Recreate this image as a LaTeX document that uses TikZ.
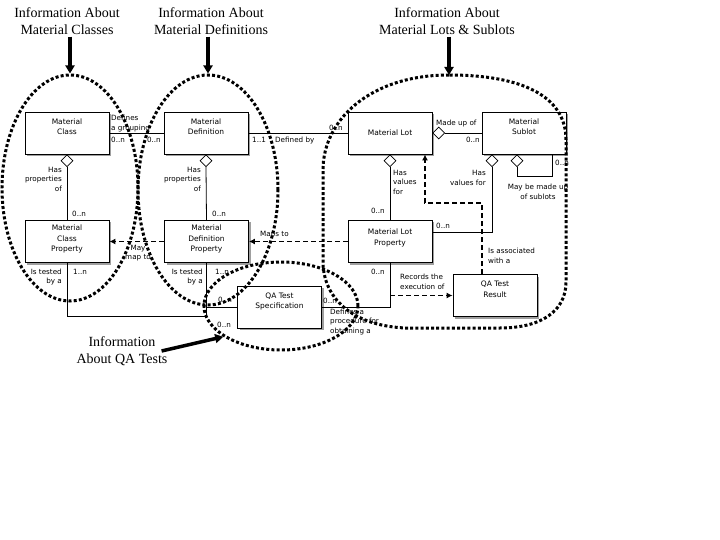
\documentclass[tikz,border=0pt]{standalone}
\usepackage{fontspec}
\setmainfont{Liberation Serif}
\newfontfamily\boxfont{DejaVu Sans}
\usetikzlibrary{shapes.geometric,shadows,arrows.meta}

\tikzset{
  ent/.style={draw, fill=white, line width=0.8pt, minimum width=84pt, minimum height=42pt,
    inner sep=0pt, align=center, font=\boxfont\fontsize{7.5}{10.5}\selectfont,
    drop shadow={shadow xshift=2pt, shadow yshift=-2pt, opacity=1, fill=gray!75}},
  raise/.style={text depth=#1},
  dmd/.style={diamond, draw, fill=white, inner sep=0pt, minimum size=12pt, line width=0.7pt},
  lbl/.style={inner sep=0pt, align=left, font=\boxfont\fontsize{7.2}{9.5}\selectfont},
  rel/.style={line width=0.8pt},
  dep/.style={line width=1.5pt, dash pattern=on 5pt off 3pt, -{Latex[length=6pt,width=6pt]}},
  grp/.style={line width=3pt, dash pattern=on 3pt off 2.2pt},
  title/.style={inner sep=0pt, align=center, font=\fontsize{14}{17}\selectfont},
  pointer/.style={line width=3.5pt, -{Triangle[length=8pt,width=9pt]}}
}

\begin{document}
\begin{tikzpicture}[x=1pt, y=-1pt]
\path[fill=white] (0,0) rectangle (720,540);

% entities
\node[ent, raise=12.5pt] (cls) at (67,133) {Material\\Class};
\node[ent, raise=12.5pt] (def) at (206,133) {Material\\Definition};
\node[ent] (lot) at (390,133) {Material Lot};
\node[ent, raise=12.5pt] (sub) at (524,133) {Material\\Sublot};
\node[ent, raise=6.5pt] (cprop) at (67,241.5) {Material\\Class\\Property};
\node[ent, raise=6.5pt] (dprop) at (206.5,241.5) {Material\\Definition\\Property};
\node[ent, raise=9pt] (lprop) at (390,241.5) {Material Lot\\Property};
\node[ent, raise=13pt] (spec) at (279.5,307) {QA Test\\Specification};
\node[ent, raise=12.5pt] (res) at (495,295.5) {QA Test\\Result};

% aggregation diamonds
\node[dmd, anchor=north] (cd) at (cls.south) {};
\node[dmd, anchor=north] (dd) at (def.south) {};
\node[dmd, anchor=north] (ld) at (lot.south) {};
\node[dmd, anchor=west] (ls) at (lot.east) {};
\node[dmd, anchor=north, xshift=-32pt] (sd) at (sub.south) {};
\node[dmd, anchor=north, xshift=-7pt] (sl) at (sub.south) {};

% relations
\draw[rel] (cls.east) -- (def.west);
\draw[rel] (def.east) -- (lot.west);
\draw[rel] (ls.east) -- (sub.west);
\draw[rel] (cd.south) -- (cprop.north);
\draw[rel] (dd.south) -- (dprop.north);
\draw[rel] (ld.south) -- (lprop.north);
\draw[rel] (sd.south) |- ([yshift=9.5pt]lprop.east);
\draw[rel] (sl.south) -- ++(0,9) -| ([xshift=28pt]sub.south);
\coordinate (jn) at (dprop.south |- spec.west);
\draw[rel] (cprop.south) |- ([yshift=-9pt]jn) -- (jn);
\draw[rel] (dprop.south) |- (spec.west);
\draw[rel] (lprop.south) |- (spec.east);

% dependencies
\draw[dep] (lprop.south |- res.west) -- (res.west);
\draw[dep] ([xshift=-13pt]res.north) -- ++(0,-71) -| ([xshift=35pt]lot.south);
\draw[dep] (lprop.west) -- (dprop.east);
\draw[dep] (dprop.west) -- (cprop.east);

% labels
\node[lbl, anchor=west] (l1) at (111,123.5) {Defines\\a grouping};
\node[lbl, anchor=west] (l2) at (111,140) {0..n};
\node[lbl, anchor=east] (l3) at (161,140) {0..n};
\node[lbl, anchor=west] (l4) at (252,140) {1..1};
\node[lbl, anchor=west] (l5) at (275,141) {Defined by};
\node[lbl, anchor=east] (l6) at (343,128) {0..n};
\node[lbl, anchor=west] (l7) at (436,124) {Made up of};
\node[lbl, anchor=east] (l8) at (480,140) {0..n};
\node[lbl, anchor=east, align=right] (l9) at (62,179) {Has\\properties\\of};
\node[lbl, anchor=west] (l10) at (72,214) {0..n};
\node[lbl, anchor=east, align=right] (l11) at (201,179) {Has\\properties\\of};
\node[lbl, anchor=west] (l12) at (212,214) {0..n};
\node[lbl, anchor=west] (l13) at (393,182) {Has\\values\\for};
\node[lbl, anchor=east] (l14) at (385,211) {0..n};
\node[lbl, anchor=east, align=right] (l15) at (486,178) {Has\\values for};
\node[lbl, anchor=west] (l16) at (555,163) {0..n};
\node[lbl, align=center] (l17) at (538,192) {May be made up\\of sublots};
\node[lbl, anchor=west] (l18) at (436,226) {0..n};
\node[lbl, anchor=west] (l19) at (488,256) {Is associated\\with a};
\node[lbl, anchor=west] (l20) at (260,235) {Maps to};
\node[lbl, align=center] (l21) at (138,253) {May\\map to};
\node[lbl, anchor=east, align=right] (l22) at (62,277) {Is tested\\by a};
\node[lbl, anchor=west] (l23) at (73,272) {1..n};
\node[lbl, anchor=east, align=right] (l24) at (203,277) {Is tested\\by a};
\node[lbl, anchor=west] (l25) at (215,272) {1..n};
\node[lbl, anchor=west] (l26) at (218,300) {0..n};
\node[lbl, anchor=west] (l27) at (217,325) {0..n};
\node[lbl, anchor=west] (l28) at (323,301) {0..n};
\node[lbl, anchor=west] (l29) at (330,322) {Defines a\\procedure for\\obtaining a};
\node[lbl, anchor=east] (l30) at (385,272) {0..n};
\node[lbl, anchor=west] (l31) at (400,282) {Records the\\execution of};

% groups
\node[grp, draw, ellipse, inner sep=0pt, minimum width=136pt, minimum height=226pt] (gcls) at (70,188) {};
\node[grp, draw, ellipse, inner sep=0pt, minimum width=140pt, minimum height=230pt] (gdef) at (208,190) {};
\node[grp, draw, ellipse, inner sep=0pt, minimum width=154pt, minimum height=88pt] (gqa) at (281,306) {};
\coordinate (glot) at (449,75);
\draw[grp] (glot) .. controls (370,75) and (323,120) .. (323,170) -- (323,262)
  .. controls (323,292) and (345,325) .. (405,328) -- (500,328)
  .. controls (540,328) and (566,312) .. (566,282) -- (566,140)
  .. controls (566,95) and (520,75) .. cycle;

% titles
\node[title] (tcls) at (67,21) {Information About\\Material Classes};
\node[title] (tdef) at (211,21) {Information About\\Material Definitions};
\node[title] (tlot) at (447,21) {Information About\\Material Lots \& Sublots};
\node[title] (tqa) at (122,351) {Information\\About QA Tests};
\draw[pointer, shorten <=2pt] (tcls.south -| gcls.north) -- (gcls.north);
\draw[pointer, shorten <=2pt] (tdef.south -| gdef.north) -- (gdef.north);
\draw[pointer, shorten <=2pt] (tlot.south -| glot) -- (glot);
\draw[pointer] ([xshift=-6pt]tqa.east) -- (gqa.208);
\end{tikzpicture}
\end{document}
